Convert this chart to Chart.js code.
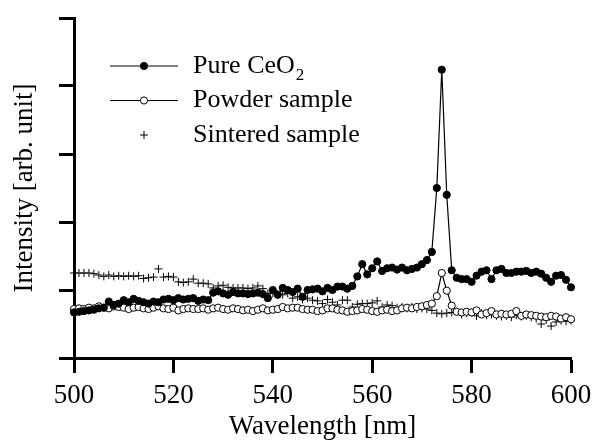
<!DOCTYPE html>
<html>
<head>
<meta charset="utf-8">
<script src="https://cdn.jsdelivr.net/npm/chart.js@4.4.1/dist/chart.umd.min.js"></script>
<style>
 html, body { margin: 0; padding: 0; background: #fff; }
 #wrap { width: 594px; height: 443px; }
</style>
</head>
<body>
<div id="wrap"><canvas id="ramanChart" width="594" height="443"></canvas></div>
<script>
// wavelength grid [nm]
let wavelength = [
 500, 501, 502, 503, 504, 505, 506, 507, 508, 509, 510, 511, 512, 513, 514, 515, 516, 517, 518, 519,
 520, 521, 522, 523, 524, 525, 526, 527, 528, 529, 530, 531, 532, 533, 534, 535, 536, 537, 538, 539,
 540, 541, 542, 543, 544, 545, 546, 547, 548, 549, 550, 551, 552, 553, 554, 555, 556, 557, 558, 559,
 560, 561, 562, 563, 564, 565, 566, 567, 568, 569, 570, 571, 572, 573, 574, 575, 576, 577, 578, 579,
 580, 581, 582, 583, 584, 585, 586, 587, 588, 589, 590, 591, 592, 593, 594, 595, 596, 597, 598, 599, 600
];

let pureCeO2 = [
 0.67, 0.68, 0.69, 0.70, 0.71, 0.73, 0.74, 0.83, 0.78, 0.80, 0.85, 0.82, 0.87, 0.84, 0.82, 0.80, 0.83, 0.82, 0.86, 0.87,
 0.85, 0.88, 0.86, 0.87, 0.88, 0.84, 0.86, 0.85, 0.96, 0.98, 0.95, 0.93, 0.97, 0.95, 0.95, 0.94, 0.95, 0.96, 0.94, 0.88,
 1.00, 0.93, 1.03, 1.00, 0.97, 1.02, 0.90, 1.00, 1.01, 1.02, 0.98, 1.03, 1.00, 1.05, 1.05, 1.02, 1.06, 1.20, 1.38, 1.23,
 1.32, 1.42, 1.28, 1.32, 1.33, 1.30, 1.33, 1.29, 1.31, 1.33, 1.38, 1.44, 1.56, 2.50, 4.24, 2.40, 1.29, 1.18, 1.16, 1.16,
 1.12, 1.21, 1.27, 1.29, 1.16, 1.29, 1.31, 1.25, 1.25, 1.27, 1.27, 1.28, 1.25, 1.27, 1.24, 1.18, 1.12, 1.21, 1.22, 1.15, 1.04
];

let powder = [
 0.72, 0.73, 0.72, 0.74, 0.73, 0.76, 0.74, 0.73, 0.76, 0.75, 0.74, 0.72, 0.74, 0.75, 0.73, 0.72, 0.74, 0.76, 0.73, 0.72,
 0.74, 0.70, 0.72, 0.73, 0.72, 0.72, 0.73, 0.71, 0.73, 0.74, 0.72, 0.71, 0.73, 0.72, 0.70, 0.71, 0.69, 0.71, 0.73, 0.70,
 0.71, 0.72, 0.75, 0.73, 0.74, 0.74, 0.72, 0.71, 0.71, 0.69, 0.70, 0.73, 0.73, 0.71, 0.70, 0.68, 0.69, 0.70, 0.72, 0.71,
 0.69, 0.68, 0.70, 0.71, 0.69, 0.70, 0.73, 0.74, 0.73, 0.75, 0.76, 0.78, 0.80, 0.91, 1.25, 0.99, 0.77, 0.68, 0.67, 0.68,
 0.67, 0.70, 0.64, 0.66, 0.69, 0.64, 0.65, 0.64, 0.65, 0.69, 0.62, 0.64, 0.63, 0.62, 0.61, 0.60, 0.62, 0.61, 0.58, 0.60, 0.57
];

let sintered = [
 1.25, 1.25, 1.25, 1.25, 1.24, 1.22, 1.20, 1.22, 1.20, 1.21, 1.20, 1.21, 1.20, 1.21, 1.17, 1.18, 1.19, 1.31, 1.19, 1.20,
 1.19, 1.12, 1.11, 1.12, 1.16, 1.10, 1.10, 1.09, 1.03, 1.06, 1.07, 1.04, 1.03, 1.03, 1.03, 1.02, 1.03, 1.06, 1.02, 0.95,
 0.95, 0.94, 0.93, 0.95, 0.88, 0.90, 0.86, 0.88, 0.85, 0.84, 0.80, 0.86, 0.82, 0.78, 0.85, 0.85, 0.75, 0.79, 0.80, 0.80,
 0.81, 0.84, 0.75, 0.78, 0.77, 0.74, 0.75, 0.73, 0.75, 0.72, 0.73, 0.72, 0.70, 0.66, 0.65, 0.66, 0.67, 0.68, 0.64, 0.66,
 0.67, 0.62, 0.66, 0.63, 0.64, 0.62, 0.61, 0.62, 0.60, 0.63, 0.61, 0.62, 0.60, 0.58, 0.50, 0.56, 0.47, 0.53, 0.55, 0.54, 0.55
];

let xTicks = [500, 520, 540, 560, 580, 600];
let yTicks = [0, 1, 2, 3, 4, 5];

function toPoints(ys) {
 return wavelength.map((x, i) => ({ x: x, y: ys[i] }));
}

const serif = "'Liberation Serif', 'Times New Roman', serif";

// legend drawn inside the plot area, top-left
const insideLegend = {
 id: 'insideLegend',
 afterDatasetsDraw(chart) {
  const ctx = chart.ctx;
  const area = chart.chartArea;
  const x0 = area.left + 36, x1 = area.left + 104, xm = (x0 + x1) / 2;
  const tx = area.left + 119;
  ctx.save();
  ctx.strokeStyle = '#000';
  ctx.textBaseline = 'middle';
  chart.data.datasets.forEach((ds, i) => {
   const y = area.top + 48 + i * 34.5;
   if (ds.showLine) {
    ctx.lineWidth = ds.borderWidth;
    ctx.beginPath();
    ctx.moveTo(x0, y);
    ctx.lineTo(x1, y);
    ctx.stroke();
   }
   ctx.lineWidth = 1;
   if (ds.pointStyle === 'cross') {
    const r = ds.pointRadius;
    ctx.beginPath();
    ctx.moveTo(xm - r, y); ctx.lineTo(xm + r, y);
    ctx.moveTo(xm, y - r); ctx.lineTo(xm, y + r);
    ctx.stroke();
   } else {
    ctx.beginPath();
    ctx.arc(xm, y, ds.pointRadius, 0, Math.PI * 2);
    ctx.fillStyle = ds.pointBackgroundColor;
    ctx.fill();
    ctx.stroke();
   }
   ctx.fillStyle = '#000';
   ctx.font = '26px ' + serif;
   const main = ds.label.replace('₂', '');
   ctx.fillText(main, tx, y);
   if (ds.label.indexOf('₂') >= 0) {
    const w = ctx.measureText(main).width;
    ctx.font = '17px ' + serif;
    ctx.fillText('2', tx + w + 1, y + 10);
   }
  });
  ctx.restore();
 }
};

let ramanChart = document.getElementById('ramanChart').getContext('2d');
let chart1 = new Chart(ramanChart, {
 type: 'scatter',
 data: {
  datasets: [
   {
    label: 'Pure CeO₂',
    data: toPoints(pureCeO2),
    showLine: true,
    borderColor: '#000',
    borderWidth: 1.2,
    pointStyle: 'circle',
    pointRadius: 3.6,
    pointBackgroundColor: '#000',
    pointBorderColor: '#000',
    pointBorderWidth: 1,
    clip: false,
   },
   {
    label: 'Powder sample',
    data: toPoints(powder),
    showLine: true,
    borderColor: '#000',
    borderWidth: 1.2,
    pointStyle: 'circle',
    pointRadius: 3.6,
    pointBackgroundColor: '#fff',
    pointBorderColor: '#000',
    pointBorderWidth: 1,
    clip: false,
   },
   {
    label: 'Sintered sample',
    data: toPoints(sintered),
    showLine: false,
    pointStyle: 'cross',
    pointRadius: 4,
    pointBorderColor: '#000',
    pointBorderWidth: 1,
    clip: false,
   }
  ]
 },
 options: {
  responsive: false,
  animation: false,
  events: [],
  layout: { padding: { top: 18, right: 23, bottom: 0, left: 0 } },
  plugins: {
   legend: { display: false },
   tooltip: { enabled: false },
  },
  scales: {
   x: {
    type: 'linear',
    min: 500,
    max: 600,
    afterBuildTicks: (scale) => { scale.ticks = xTicks.map(v => ({ value: v })); },
    afterFit: (scale) => { scale.height = 85; scale.paddingLeft = 0; scale.paddingRight = 0; },
    border: { display: true, color: '#000', width: 3 },
    grid: { drawOnChartArea: false, drawTicks: true, tickLength: 15, tickWidth: 3, tickColor: '#000' },
    ticks: { color: '#000', font: { family: serif, size: 27 }, padding: 7, maxRotation: 0 },
    title: { display: true, text: 'Wavelength [nm]', color: '#000', font: { family: serif, size: 27 }, padding: { top: 0, bottom: 0 } },
   },
   y: {
    min: 0,
    max: 5,
    afterBuildTicks: (scale) => { scale.ticks = yTicks.map(v => ({ value: v })); },
    afterFit: (scale) => { scale.width = 74; scale.paddingTop = 0; scale.paddingBottom = 0; },
    border: { display: true, color: '#000', width: 3 },
    grid: { drawOnChartArea: false, drawTicks: true, tickLength: 15, tickWidth: 3, tickColor: '#000' },
    ticks: { display: false },
    title: { display: true, text: 'Intensity [arb. unit]', color: '#000', font: { family: serif, size: 27 }, padding: { top: 9, bottom: 0 } },
   }
  }
 },
 plugins: [insideLegend]
});
</script>
</body>
</html>
